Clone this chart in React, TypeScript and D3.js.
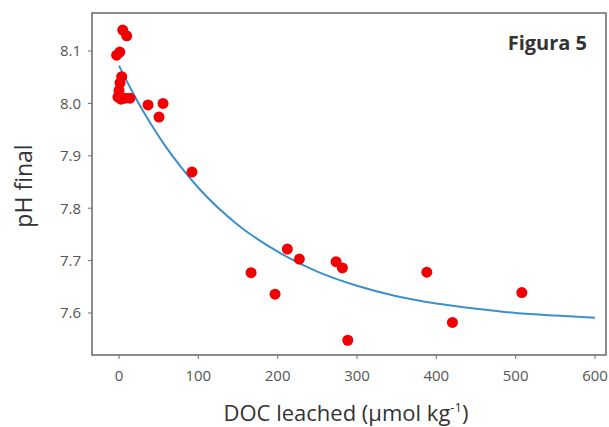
import React from "react";
import * as d3 from "d3";

const docX = [-3, 1, 4.7, 9.7, 3.4, 1.3, 0, -1.3, 2.5, 7.6, 13.9, 36.6, 55.5, 50.4, 92, 166.5, 196.7, 212.2, 227.4, 273.6, 281.6, 288.4, 388, 420.3, 507.8];
const phY = [8.092, 8.098, 8.14, 8.129, 8.051, 8.039, 8.025, 8.012, 8.008, 8.01, 8.01, 7.997, 8.0, 7.974, 7.869, 7.677, 7.636, 7.722, 7.703, 7.698, 7.686, 7.548, 7.678, 7.582, 7.639];

const fitX = [0, 20, 40, 60, 80, 100, 150, 200, 250, 300, 350, 400, 450, 500, 550, 600];
const fitY = [8.072, 8.013, 7.961, 7.915, 7.875, 7.839, 7.768, 7.717, 7.679, 7.652, 7.632, 7.618, 7.608, 7.6, 7.595, 7.591];

const xTicks = [0, 100, 200, 300, 400, 500, 600];
const yTicks = [7.6, 7.7, 7.8, 7.9, 8.0, 8.1];

const W = 609, H = 427;
const L = 92, R = 606, T = 13, B = 355;

export default function App() {
  const x = d3.scaleLinear().domain([0, 600]).range([119, 595]);
  const y = d3.scaleLinear().domain([7.6, 8.1]).range([313, 51]);
  const line = d3.line<number>().x((d, i) => x(fitX[i])).y((d) => y(d)).curve(d3.curveMonotoneX);
  const font = "'Open Sans', 'Liberation Sans', sans-serif";
  return (
    <svg width={W} height={H} style={{ position: "absolute", left: 0, top: 0, background: "#fff" }}>
      <rect x={0} y={0} width={W} height={H} fill="#fff" />
      <path d={line(fitY) || ""} fill="none" stroke="#3d8fcb" strokeWidth={2} />
      {docX.map((d, i) => (
        <circle key={i} cx={x(d)} cy={y(phY[i])} r={5.5} fill="#f00000" />
      ))}
      <rect x={L} y={T} width={R - L} height={B - T} fill="none" stroke="#707070" strokeWidth={1.6} />
      {yTicks.map((t) => (
        <g key={t}>
          <line x1={L - 4} x2={L} y1={y(t)} y2={y(t)} stroke="#707070" strokeWidth={1} />
          <text x={L - 11} y={y(t)} dy="0.36em" textAnchor="end" fontFamily={font} fontSize={15} fill="#555">
            {t.toFixed(1)}
          </text>
        </g>
      ))}
      {xTicks.map((t) => (
        <g key={t}>
          <line x1={x(t)} x2={x(t)} y1={B} y2={B + 4} stroke="#707070" strokeWidth={1} />
          <text x={x(t)} y={381} textAnchor="middle" fontFamily={font} fontSize={15} fill="#555">
            {t}
          </text>
        </g>
      ))}
      <text x={587} y={50} textAnchor="end" fontFamily={font} fontWeight="bold" fontSize={20} fill="#333">
        Figura 5
      </text>
      <text transform={`translate(32,186) rotate(-90)`} textAnchor="middle" fontFamily={font} fontSize={23} fill="#333">
        pH final
      </text>
      <text x={346} y={421} textAnchor="middle" fontFamily={font} fontSize={22} fill="#333">
        DOC leached (µmol kg<tspan dy={-9} fontSize={13}>-1</tspan><tspan dy={9}>)</tspan>
      </text>
    </svg>
  );
}
